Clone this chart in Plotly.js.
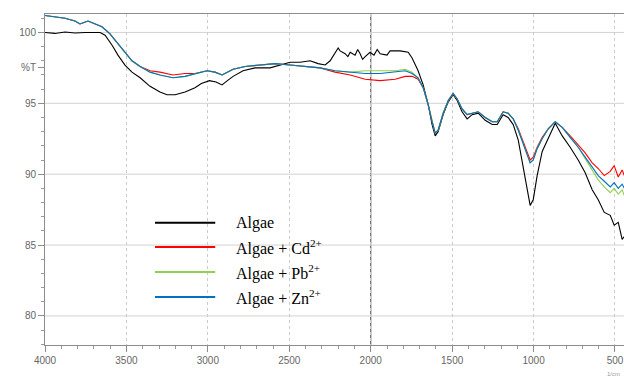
<!DOCTYPE html>
<html>
<head>
<meta charset="utf-8">
<script src="https://cdn.plot.ly/plotly-3.0.1.min.js"></script>
<style>html,body{margin:0;padding:0;background:#fff;}#chart{width:624px;height:381px;}</style>
</head>
<body>
<div id="chart"></div>
<script>
// Wavenumbers (cm^-1) and %T for the untreated algae
const waveAlgae = [4000,3939,3877,3816,3754,3693,3662,3631,3588,3552,3509,3466,3416,3355,3294,3251,3201,3140,3079,3040,2990,2950,2913,2880,2845,2784,2710,2618,2556,2495,2434,2372,2323,2280,2249,2219,2200,2188,2157,2140,2126,2096,2080,2065,2050,2034,2004,1980,1960,1942,1900,1881,1819,1770,1746,1709,1678,1647,1623,1604,1586,1555,1524,1494,1469,1439,1408,1377,1340,1297,1254,1223,1187,1156,1125,1094,1064,1039,1021,1002,978,947,910,867,824,775,726,683,640,603,566,529,505,480,456,443];
const tAlgae = [100.0,99.93,100.03,99.96,100.0,100.03,100.0,99.8,99.1,98.4,97.7,97.2,96.8,96.2,95.8,95.6,95.6,95.8,96.1,96.4,96.6,96.5,96.3,96.6,96.9,97.3,97.5,97.5,97.7,97.9,97.9,98.0,97.8,97.7,98.0,98.5,98.9,98.7,98.5,98.3,98.6,98.4,98.8,98.5,98.1,98.3,98.6,98.4,98.8,98.5,98.4,98.7,98.7,98.6,98.2,97.3,96.3,94.9,93.5,92.7,93.0,94.2,95.1,95.6,95.2,94.4,93.9,94.2,94.3,93.8,93.5,93.5,94.2,94.0,93.5,92.4,90.6,88.9,87.8,88.2,89.9,91.6,92.5,93.6,92.7,91.9,91.0,90.1,88.9,88.2,87.3,87.1,86.4,86.6,85.4,85.6];

// Wavenumbers shared by the metal-loaded samples
const waveMetal = [4000,3939,3877,3816,3785,3736,3693,3650,3601,3552,3509,3466,3416,3355,3294,3214,3140,3079,3005,2956,2913,2845,2771,2679,2587,2495,2403,2311,2219,2126,2034,1942,1850,1788,1746,1709,1678,1647,1623,1604,1586,1555,1524,1494,1469,1439,1408,1377,1340,1297,1254,1223,1187,1156,1125,1094,1064,1039,1021,1002,978,947,910,867,824,775,726,683,640,603,566,529,505,480,456,443];
const tCd = [101.2,101.1,101.0,100.8,100.6,100.8,100.6,100.4,99.9,99.2,98.6,98.0,97.6,97.3,97.2,97.0,97.1,97.1,97.3,97.2,97.0,97.4,97.6,97.7,97.8,97.7,97.6,97.5,97.2,97.0,96.7,96.6,96.7,96.9,96.9,96.7,96.1,94.9,93.7,92.9,93.1,94.3,95.2,95.7,95.3,94.6,94.2,94.3,94.4,94.0,93.7,93.7,94.4,94.3,93.9,93.2,92.3,91.5,91.0,91.2,91.9,92.6,93.2,93.7,93.3,92.7,92.1,91.5,90.8,90.4,89.9,90.2,90.6,89.8,90.3,89.9];
const tPb = [101.2,101.1,101.0,100.8,100.6,100.8,100.6,100.4,99.9,99.2,98.6,98.0,97.6,97.2,97.0,96.8,96.9,97.1,97.3,97.2,97.0,97.4,97.6,97.7,97.8,97.7,97.6,97.5,97.3,97.2,97.3,97.3,97.3,97.4,97.2,96.8,96.1,94.9,93.7,92.9,93.1,94.3,95.2,95.7,95.3,94.6,94.2,94.3,94.4,94.0,93.7,93.7,94.4,94.3,93.9,93.1,92.2,91.3,90.8,91.0,91.8,92.5,93.2,93.7,93.3,92.6,91.9,91.1,90.3,89.6,89.1,88.7,89.0,88.6,88.9,88.5];
const tZn = [101.2,101.1,101.0,100.8,100.6,100.8,100.6,100.4,99.9,99.2,98.6,98.0,97.6,97.2,97.0,96.8,96.9,97.1,97.3,97.2,97.0,97.4,97.6,97.7,97.8,97.7,97.6,97.5,97.3,97.2,97.1,97.1,97.2,97.3,97.1,96.8,96.1,94.9,93.7,92.9,93.1,94.3,95.2,95.7,95.3,94.6,94.2,94.3,94.4,94.0,93.7,93.7,94.4,94.3,93.9,93.1,92.2,91.3,90.8,91.0,91.8,92.5,93.2,93.7,93.3,92.6,91.9,91.2,90.5,89.9,89.5,89.1,89.4,89.0,89.3,89.0];

const seriesNames = ['Algae', 'Algae + Cd<sup>2+</sup>', 'Algae + Pb<sup>2+</sup>', 'Algae + Zn<sup>2+</sup>'];
const seriesColors = ['#000000', '#ff0000', '#92d050', '#0070c0'];
const yTickVals = [80, 85, 90, 95, 97.5, 100];
const yTickText = ['80', '85', '90', '95', '%T', '100'];
const xTickVals = [4000, 3500, 3000, 2500, 2000, 1500, 1000, 500];

const xs = [waveAlgae, waveMetal, waveMetal, waveMetal];
const ys = [tAlgae, tCd, tPb, tZn];
const traces = ys.map((y, i) => ({
  x: xs[i], y: y, type: 'scatter', mode: 'lines', name: seriesNames[i],
  line: {color: seriesColors[i], width: 1.1}, showlegend: false
}));

// custom legend: line shapes + text annotations
const legX0 = 0.19, legX1 = 0.294, legTextX = 0.327;
const legY = [0.369, 0.296, 0.2205, 0.145];
const shapes = [
  {type: 'line', xref: 'x', yref: 'paper', x0: 2000, x1: 2000, y0: 0, y1: 1,
   line: {color: '#6e6e6e', width: 1.3}, layer: 'below'}
];
const annotations = [];
seriesNames.forEach((n, i) => {
  shapes.push({type: 'line', xref: 'paper', yref: 'paper', x0: legX0, x1: legX1, y0: legY[i], y1: legY[i],
    line: {color: seriesColors[i], width: 2}});
  annotations.push({xref: 'paper', yref: 'paper', x: legTextX, y: legY[i], xanchor: 'left', yanchor: 'middle',
    text: n, showarrow: false, font: {family: 'Liberation Serif, Times New Roman, serif', size: 16, color: '#000'}});
});
annotations.push({xref: 'paper', yref: 'paper', x: 0.997, y: -0.088, xanchor: 'right', yanchor: 'middle',
  text: '1/cm', showarrow: false, font: {family: 'Liberation Sans, Arial, sans-serif', size: 6, color: '#999'}});

const layout = {
  width: 624, height: 381,
  margin: {l: 45, r: 0, t: 14, b: 36},
  paper_bgcolor: '#fff', plot_bgcolor: '#fff',
  showlegend: false,
  xaxis: {
    range: [4000, 444.7], tickvals: xTickVals, ticktext: xTickVals.map(String),
    showline: true, linecolor: '#8c8c8c', linewidth: 1, mirror: true,
    ticks: 'outside', ticklen: 6, tickcolor: '#8c8c8c',
    showgrid: true, gridcolor: '#cccccc', griddash: '3px,3px', gridwidth: 1,
    minor: {dtick: 100, ticks: 'outside', ticklen: 3, tickcolor: '#9a9a9a', showgrid: false},
    zeroline: false,
    tickfont: {family: 'Liberation Sans, Arial, sans-serif', size: 10, color: '#666'}
  },
  yaxis: {
    range: [77.95, 101.3], tickvals: yTickVals, ticktext: yTickText,
    showline: true, linecolor: '#8c8c8c', linewidth: 1,
    ticks: 'outside', ticklen: 6, tickcolor: '#8c8c8c',
    showgrid: false,
    minor: {dtick: 1, ticks: 'outside', ticklen: 3, tickcolor: '#9a9a9a', showgrid: false},
    zeroline: false,
    tickfont: {family: 'Liberation Sans, Arial, sans-serif', size: 10, color: '#666'}
  },
  shapes: shapes.concat([80, 85, 90, 95, 100].map(v => ({
    type: 'line', xref: 'paper', yref: 'y', x0: 0, x1: 1, y0: v, y1: v,
    line: {color: '#d2d2d2', width: 1}, layer: 'below'}))),
  annotations: annotations
};

Plotly.newPlot('chart', traces, layout, {staticPlot: true, displayModeBar: false});
</script>
</body>
</html>
